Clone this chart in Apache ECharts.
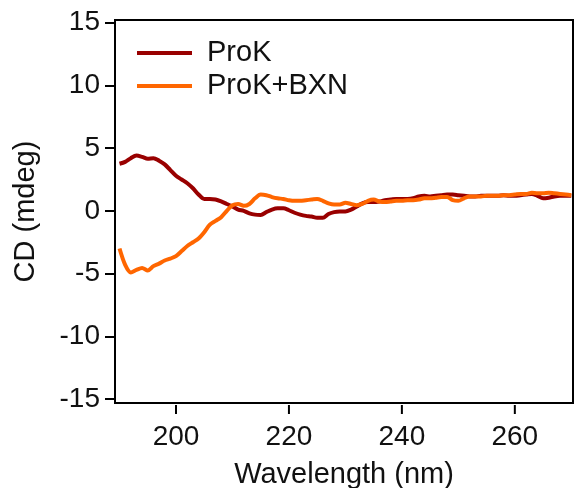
<!DOCTYPE html>
<html>
<head>
<meta charset="utf-8">
<script src="https://cdn.jsdelivr.net/npm/echarts@6/dist/echarts.min.js"></script>
<style>html,body{margin:0;padding:0;background:#fff;}#c{width:576px;height:488px;}</style>
</head>
<body>
<div id="c"></div>
<script>
const wavelengths = [190,191,192,193,194,195,196,197,198,199,200,201,202,203,204,205,206,207,208,209,210,211,212,213,214,215,216,217,218,219,220,221,222,223,224,225,226,227,228,229,230,231,232,233,234,235,236,237,238,239,240,241,242,243,244,245,246,247,248,249,250,251,252,253,254,255,256,257,258,259,260,261,262,263,264,265,266,267,268,269,270];
const prok = [3.75,3.9,4.2,4.4,4.3,4.15,4.2,4.0,3.7,3.25,2.8,2.5,2.2,1.8,1.3,0.95,0.95,0.9,0.75,0.55,0.35,0.1,0.0,-0.2,-0.3,-0.32,-0.1,0.1,0.2,0.2,0.05,-0.15,-0.3,-0.4,-0.45,-0.55,-0.55,-0.25,-0.1,-0.05,-0.05,0.1,0.35,0.6,0.7,0.7,0.75,0.85,0.9,0.95,0.95,0.95,1.0,1.15,1.2,1.15,1.2,1.25,1.3,1.3,1.25,1.2,1.15,1.15,1.2,1.2,1.2,1.2,1.25,1.2,1.2,1.25,1.3,1.35,1.2,1.0,1.05,1.15,1.2,1.2,1.2];
const prokBxn = [-3.0,-4.3,-4.9,-4.7,-4.55,-4.75,-4.4,-4.2,-3.95,-3.8,-3.6,-3.2,-2.8,-2.5,-2.2,-1.7,-1.1,-0.8,-0.5,0.0,0.45,0.55,0.4,0.55,1.0,1.3,1.25,1.1,1.0,0.95,0.85,0.8,0.8,0.85,0.9,0.95,0.8,0.6,0.5,0.5,0.65,0.55,0.45,0.55,0.8,0.9,0.75,0.7,0.75,0.8,0.8,0.85,0.85,0.9,1.0,1.0,1.05,1.1,1.1,0.85,0.8,1.0,1.15,1.15,1.15,1.2,1.2,1.2,1.25,1.25,1.3,1.35,1.35,1.45,1.4,1.4,1.45,1.4,1.35,1.3,1.25];
const xTicks = [200,220,240,260];
const yTicks = [-15,-10,-5,0,5,10,15];
const seriesNames = ['ProK','ProK+BXN'];
const colors = ['#990000','#FF6600'];

const FONT = 'Liberation Sans, Arial, sans-serif';
const X_MIN = 189.2, X_MAX = 270.3, Y_MIN = -15.3, Y_MAX = 15.2;
const chart = echarts.init(document.getElementById('c'), null, {renderer:'canvas'});
const mk = (vals) => wavelengths.map((w,i)=>[w, vals[i]]);

// x-axis ticks and labels drawn through the axis scale (custom series)
function renderXTick(params, api){
  const p = api.coord([api.value(0), Y_MIN]);
  return {
    type:'group',
    children:[
      {type:'line', shape:{x1:p[0], y1:p[1]+2, x2:p[0], y2:p[1]+11}, style:{stroke:'#000', lineWidth:2}},
      {type:'text', x:p[0], y:p[1]+20, style:{text:String(api.value(0)), fontFamily:FONT, fontSize:28, fill:'#111', align:'center', verticalAlign:'top'}}
    ]
  };
}

chart.setOption({
  animation:false,
  backgroundColor:'#fff',
  grid:{left:115,right:3,top:20,bottom:85,outerBoundsMode:'none',show:true,borderColor:'#000',borderWidth:2},
  legend:{
    orient:'vertical', left:137, top:38, padding:0, itemWidth:55, itemHeight:4, itemGap:3,
    icon:'rect',
    data:seriesNames,
    textStyle:{fontFamily:FONT,fontSize:29,color:'#111',lineHeight:30,padding:[0,0,0,10]}
  },
  xAxis:{
    type:'value', min:X_MIN, max:X_MAX, position:'bottom',
    name:'Wavelength (nm)', nameLocation:'middle', nameGap:57,
    nameTextStyle:{fontFamily:FONT,fontSize:29,color:'#111'},
    axisLine:{show:false,onZero:false},
    axisTick:{show:false},
    axisLabel:{show:false},
    splitLine:{show:false}
  },
  yAxis:[{
    type:'value', min:Y_MIN, max:Y_MAX, position:'left',
    name:'CD (mdeg)', nameLocation:'middle', nameGap:75,
    nameTextStyle:{fontFamily:FONT,fontSize:29,color:'#111'},
    axisLine:{show:false,onZero:false},
    axisTick:{show:false},
    axisLabel:{customValues:yTicks,margin:15,align:'right',verticalAlign:'middle',fontFamily:FONT,fontSize:28,color:'#111'},
    splitLine:{show:false}
  },{
    type:'value', min:Y_MIN, max:Y_MAX, position:'left',
    axisLine:{show:false,onZero:false},
    axisTick:{show:true,length:10,customValues:yTicks,lineStyle:{color:'#000',width:2}},
    axisLabel:{show:false},
    splitLine:{show:false}
  }],
  series:[
    {name:seriesNames[0],type:'line',data:mk(prok),showSymbol:false,smooth:0.3,lineStyle:{color:colors[0],width:4},itemStyle:{color:colors[0]}},
    {name:seriesNames[1],type:'line',data:mk(prokBxn),showSymbol:false,smooth:0.3,lineStyle:{color:colors[1],width:4},itemStyle:{color:colors[1]}},
    {name:'xticks',type:'custom',clip:false,silent:true,data:xTicks.map(v=>[v]),encode:{x:0},renderItem:renderXTick,z:5}
  ]
});
</script>
</body>
</html>
